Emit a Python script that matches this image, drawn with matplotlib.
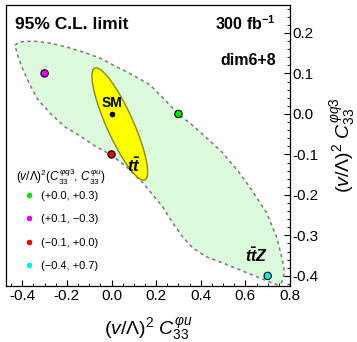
import numpy as np
import matplotlib
matplotlib.use('Agg')
import matplotlib.pyplot as plt
from matplotlib.ticker import MultipleLocator, FormatStrFormatter
from matplotlib.lines import Line2D

plt.rcParams['font.family'] = ['Liberation Sans', 'DejaVu Sans']
plt.rcParams['mathtext.fontset'] = 'custom'
plt.rcParams['mathtext.rm'] = 'Liberation Sans'
plt.rcParams['mathtext.it'] = 'Liberation Sans:italic'
plt.rcParams['mathtext.bf'] = 'Liberation Sans:bold'
plt.rcParams['mathtext.bfit'] = 'Liberation Sans:italic:bold'
plt.rcParams['axes.unicode_minus'] = True

# ttZ 95% CL region boundary: (C_phiu, C_phiq3)
region_phiu = [-0.433, -0.410, -0.352, -0.276, -0.200, -0.128, -0.052, 0.024, 0.095,
               0.172, 0.239, 0.297, 0.350, 0.426, 0.498, 0.574, 0.619, 0.695, 0.740,
               0.766, 0.775, 0.762, 0.740, 0.664, 0.574, 0.498, 0.426, 0.364, 0.319,
               0.274, 0.230, 0.185, 0.140, 0.068, -0.003, -0.075, -0.142, -0.209,
               -0.276, -0.330, -0.366, -0.397, -0.419]
region_phiq3 = [0.170, 0.178, 0.180, 0.175, 0.165, 0.153, 0.138, 0.116, 0.096,
                0.072, 0.035, 0.000, -0.022, -0.059, -0.096, -0.146, -0.180, -0.244, -0.304,
                -0.360, -0.393, -0.417, -0.422, -0.405, -0.385, -0.368, -0.353, -0.331, -0.304,
                -0.269, -0.230, -0.200, -0.170, -0.131, -0.101, -0.079, -0.054, -0.032,
                0.002, 0.035, 0.072, 0.109, 0.141]

# ttbar 95% CL ellipse: centre, semi-major and semi-minor vectors (data units)
tt_center = (0.037, -0.025)
tt_major = (0.112, -0.138)
tt_minor = (0.055, 0.013)

# benchmark points
bench_phiu = [0.3, -0.3, 0.0, 0.7]
bench_phiq3 = [0.0, 0.1, -0.1, -0.4]
bench_colors = ['#00e600', '#ee00ee', '#ee0000', '#00eeee']
bench_labels = ['(+0.0, +0.3)', '(+0.1, \u22120.3)', '(\u22120.1, +0.0)', '(\u22120.4, +0.7)']

sm_point = (0.0, 0.0)

fig = plt.figure(figsize=(3.57, 3.42), dpi=100)
ax = fig.add_axes([6/357, 1-286/342, 284/357, 281/342])

ax.fill(region_phiu, region_phiq3, facecolor='#dcfadc', edgecolor='#7a7a7a',
        linestyle=(0, (2.2, 2.2)), linewidth=1.1, zorder=1)

t = np.linspace(0, 2*np.pi, 300)
ex = tt_center[0] + tt_major[0]*np.cos(t) + tt_minor[0]*np.sin(t)
ey = tt_center[1] + tt_major[1]*np.cos(t) + tt_minor[1]*np.sin(t)
ax.fill(ex, ey, facecolor='#ffff00', edgecolor='#8c8c00', linewidth=1.0, zorder=2)

ax.plot([sm_point[0]], [sm_point[1]], 'o', color='black', markersize=3, zorder=4)
ax.scatter(bench_phiu, bench_phiq3, s=28, c=bench_colors, edgecolors='black',
           linewidths=0.8, zorder=5)

ax.text(0.0, 0.027, 'SM', fontsize=10, fontweight='bold', ha='center', va='center', zorder=6)
ax.text(0.10, -0.127, r'$\mathbfit{t\bar{t}}$', fontsize=12, ha='center', va='center', zorder=6)
ax.text(0.651, -0.351, r'$\mathbfit{t\bar{t}Z}$', fontsize=11.5, ha='center', va='center', zorder=6)

ax.text(0.033, 0.932, '95% C.L. limit', transform=ax.transAxes, fontsize=12.5,
        fontweight='bold', ha='left', va='center')
ax.text(0.95, 0.932, r'300 fb$^{\mathbf{-1}}$', transform=ax.transAxes, fontsize=11.5,
        fontweight='bold', ha='right', va='center')
ax.text(0.95, 0.804, 'dim6+8', transform=ax.transAxes, fontsize=11.5,
        fontweight='bold', ha='right', va='center')

ax.text(0.036, 0.388, r'$(v/\Lambda)^2(C_{33}^{\varphi q3},\,C_{33}^{\varphi u})$',
        transform=ax.transAxes, fontsize=8.5, ha='left', va='center')
handles = [Line2D([], [], marker='o', linestyle='none', markersize=4,
                  markerfacecolor=c, markeredgecolor='none') for c in bench_colors]
leg = ax.legend(handles, bench_labels, loc='upper left', bbox_to_anchor=(0.03, 0.358),
                frameon=False, fontsize=8, labelspacing=1.2, handletextpad=0.3,
                handlelength=1.6, borderpad=0)

ax.set_xlim(-0.473, 0.8)
ax.set_ylim(-0.425, 0.269)

ax.xaxis.set_major_locator(MultipleLocator(0.2))
ax.xaxis.set_minor_locator(MultipleLocator(0.05))
ax.yaxis.set_major_locator(MultipleLocator(0.1))
ax.yaxis.set_minor_locator(MultipleLocator(0.02))
ax.xaxis.set_major_formatter(FormatStrFormatter('%.1f'))
ax.yaxis.set_major_formatter(FormatStrFormatter('%.1f'))

ax.yaxis.tick_right()
ax.yaxis.set_label_position('right')
ax.tick_params(axis='both', which='major', direction='in', length=4.5, width=0.8,
               labelsize=11, pad=2)
ax.tick_params(axis='both', which='minor', direction='in', length=2.2, width=0.6)
ax.tick_params(axis='x', top=False, which='both')
ax.tick_params(axis='y', left=False, which='both')

ax.set_xlabel(r'$(v/\Lambda)^2\ C_{33}^{\varphi u}$', fontsize=14, labelpad=9)
ax.set_ylabel(r'$(v/\Lambda)^2\ C_{33}^{\varphi q3}$', fontsize=14, labelpad=7)

for s in ax.spines.values():
    s.set_linewidth(0.9)

fig.savefig('out.png', dpi=100)
